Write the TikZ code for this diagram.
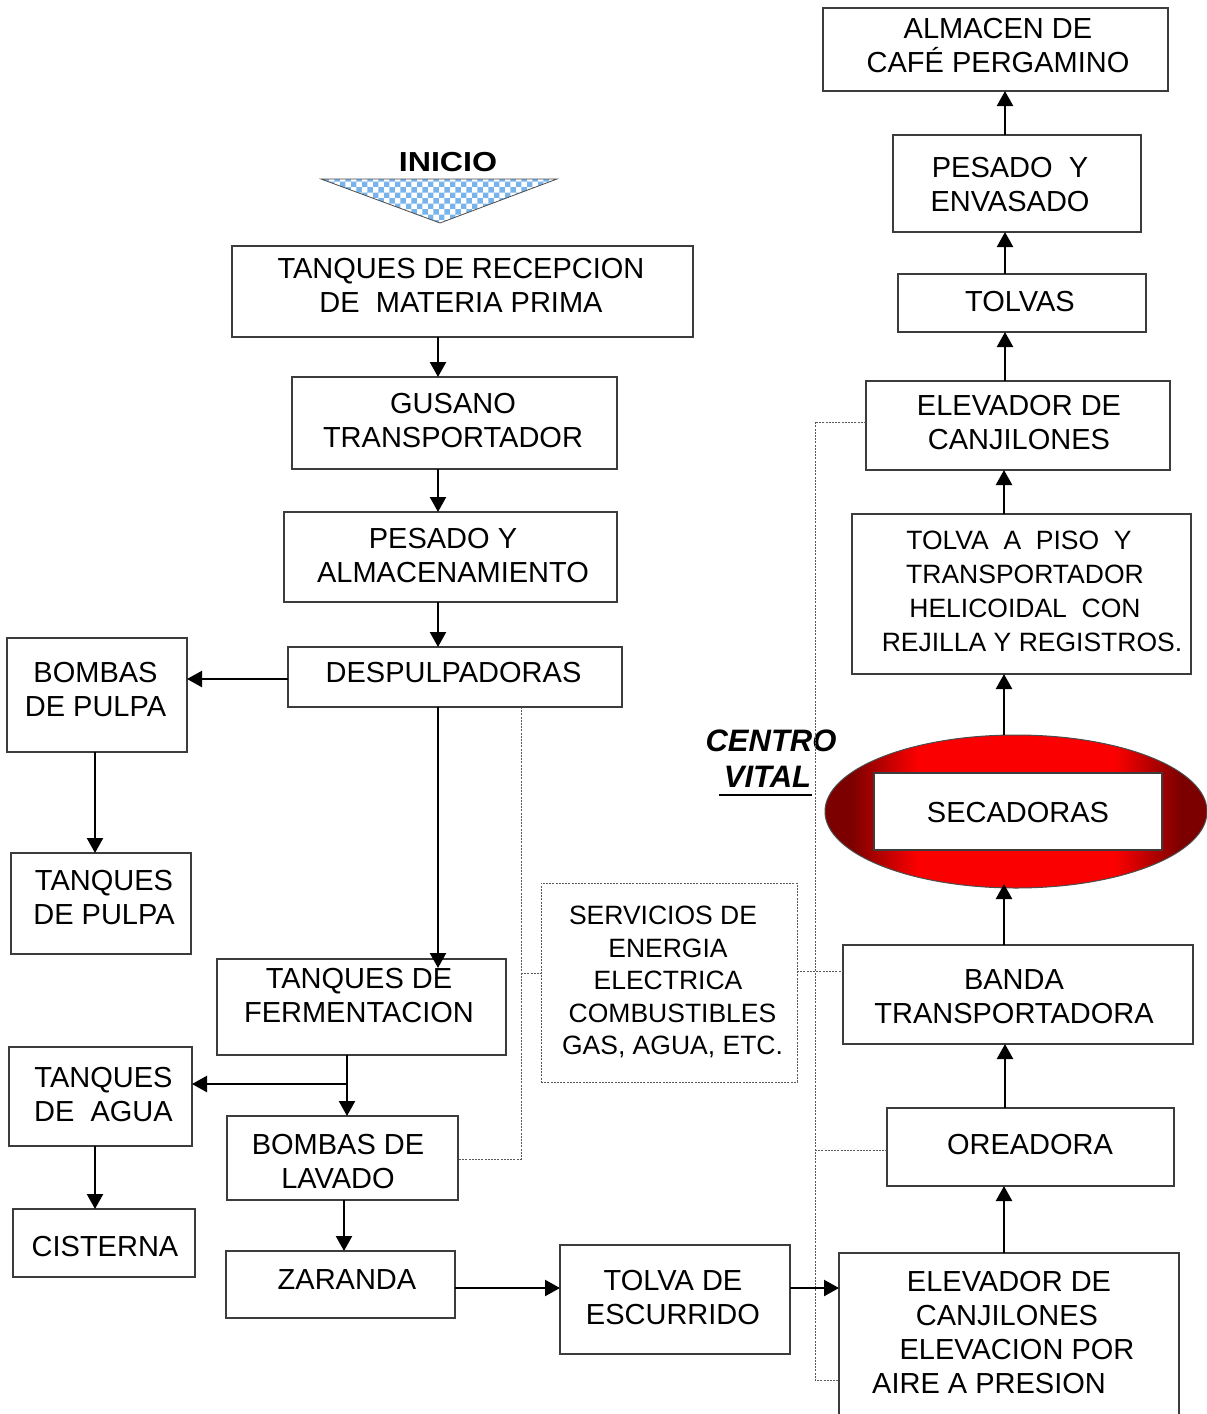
\documentclass[tikz,border=0pt]{standalone}
\usepackage{fontspec}
\setmainfont{Liberation Sans}
\usepackage{graphicx}
\usetikzlibrary{arrows.meta,shapes.geometric,patterns,calc}
\definecolor{ellDark}{RGB}{125,0,0}
\definecolor{ellRed}{RGB}{250,0,0}
\definecolor{inicioblue}{RGB}{120,180,235}
\definecolor{boxline}{RGB}{60,60,60}
\pgfdeclarehorizontalshading{redell}{100bp}{color(0bp)=(ellDark); color(26bp)=(ellDark); color(28.5bp)=(ellDark); color(37bp)=(ellRed); color(63bp)=(ellRed); color(71.5bp)=(ellDark); color(74bp)=(ellDark); color(100bp)=(ellDark)}
\newcommand\bxn[5]{\node[bx, minimum width={(#4-#2)*1pt}, minimum height={(#5-#3)*1pt}] (#1) at ({(#2+#4)/2},{(#3+#5)/2}) {};}
\begin{document}
\begin{tikzpicture}[x=1pt,y=-1pt,
  bx/.style={draw=boxline, line width=1.2pt, fill=white, inner sep=0pt, outer sep=0pt},
  dbx/.style={draw=black!65, line width=1pt, dash pattern=on 2pt off 1.2pt, inner sep=0pt, outer sep=0pt},
  txt/.style={align=center, inner sep=0pt, font=\fontsize{29}{34}\selectfont},
  stxt/.style={align=center, inner sep=0pt, font=\fontsize{26.5}{34}\selectfont},
  vtxt/.style={align=center, inner sep=0pt, font=\fontsize{26.5}{32.5}\selectfont},
  arr/.style={-{Triangle[length=15pt,width=16pt]}, line width=2.3pt},
  dotl/.style={draw=black!65, line width=1pt, dash pattern=on 2pt off 1.2pt}]
\useasboundingbox (0,0) rectangle (1207,1414);
\fill[white] (0,0) rectangle (1207,1414);

% INICIO
\draw[draw=black!70, line width=0.8pt, pattern=checkerboard, pattern color=inicioblue] (321,179) -- (557,179) -- (440,223) -- cycle;
\node[inner sep=0pt, font=\fontsize{27.5}{30}\selectfont\bfseries] (inicio) at (448,162.5) {\scalebox{1.17}[1]{INICIO}};

% centro vital
\node[inner sep=0pt, font=\fontsize{31}{36}\selectfont\bfseries\itshape] (centro) at (771,741) {CENTRO};
\node[inner sep=0pt, font=\fontsize{31}{36}\selectfont\bfseries\itshape] (vital) at (767.5,777) {VITAL};
\draw[line width=2.6pt] (719,795) -- (812,795);

% ellipse
\node[ellipse, draw=black!70, line width=1pt, shade, shading=redell, minimum width=382pt, minimum height=153pt, inner sep=0pt, outer sep=0pt] (ell) at (1016,811.5) {};

% boxes
\bxn{alm}{823}{8}{1168}{91}
\bxn{pesenv}{893}{135}{1141}{232}
\bxn{tolvas}{898}{274}{1146}{332}
\bxn{elev1}{866}{381}{1170}{470}
\bxn{tpiso}{852}{514}{1191}{674}
\bxn{sec}{874}{773}{1162}{850}
\bxn{banda}{843}{945}{1193}{1044}
\bxn{orea}{887}{1108}{1174}{1186}
\bxn{elev2}{839}{1253}{1179}{1440}
\bxn{tesc}{560}{1245}{790}{1354}
\bxn{zar}{226}{1251}{455}{1318}
\bxn{cist}{13}{1209}{195}{1277}
\bxn{tagua}{9}{1047}{192}{1146}
\bxn{blav}{227}{1116}{458}{1200}
\bxn{ferm}{217}{959}{506}{1055}
\bxn{tpul}{11}{853}{191}{954}
\bxn{bpul}{7}{638}{187}{752}
\bxn{desp}{288}{647}{622}{707}
\bxn{pesalm}{284}{512}{617}{602}
\bxn{gus}{292}{377}{617}{469}
\bxn{rec}{232}{246}{693}{337}
\node[dbx, minimum width=256pt, minimum height=199pt] (serv) at (669,982.5) {};

% texts
\node[txt] (almT) at (998,46) {ALMACEN DE\\CAFÉ PERGAMINO};
\node[txt] (pesenvT) at (1010,184.5) {PESADO\ \ Y\\ENVASADO};
\node[txt] (tolvasT) at (1020,302) {TOLVAS};
\node[txt] (elev1T) at (1019,422.5) {ELEVADOR DE\\CANJILONES};
\node[stxt] (tpisoT) at (1025,591) {TOLVA\ \ A\ \ PISO\ \ Y\hspace*{12pt}\\TRANSPORTADOR\hspace*{4pt}\\HELICOIDAL\ \ CON\\\hspace*{14pt}REJILLA Y REGISTROS.};
\node[txt] (secT) at (1018,813) {SECADORAS};
\node[txt] (bandaT) at (1014,996.5) {BANDA\\TRANSPORTADORA};
\node[txt] (oreaT) at (1030,1145) {OREADORA};
\node[txt] (elev2T) at (1005,1332) {\hspace*{8pt}ELEVADOR DE\\\hspace*{4pt}CANJILONES\\\hspace*{24pt}ELEVACION POR\\AIRE A PRESION\hspace*{32pt}};
\node[txt] (tescT) at (673,1297) {TOLVA DE\\ESCURRIDO};
\node[txt] (zarT) at (347,1280) {ZARANDA};
\node[txt] (cistT) at (105,1247) {CISTERNA};
\node[txt] (taguaT) at (103.5,1095) {TANQUES\\DE\ \ AGUA};
\node[txt] (blavT) at (338,1161.5) {BOMBAS DE\\LAVADO};
\node[txt] (fermT) at (359,996) {TANQUES DE\\FERMENTACION};
\node[txt] (tpulT) at (104,898) {TANQUES\\DE PULPA};
\node[txt] (bpulT) at (95.5,690) {BOMBAS\\DE PULPA};
\node[txt] (despT) at (453.5,673) {DESPULPADORAS};
\node[txt] (pesalmT) at (448,555.5) {PESADO Y\hspace*{10pt}\\\hspace*{10pt}ALMACENAMIENTO};
\node[txt] (gusT) at (453,420.5) {GUSANO\\TRANSPORTADOR};
\node[txt] (recT) at (461,285) {TANQUES DE RECEPCION\\DE\ \ MATERIA PRIMA};
\node[vtxt] (servT) at (668,982) {SERVICIOS DE\hspace*{10pt}\\ENERGIA\hspace*{4pt}\\ELECTRICA\hspace*{3pt}\\\hspace*{9pt}COMBUSTIBLES\\\hspace*{9pt}GAS, AGUA, ETC.};

% reference coordinates
\coordinate (cL) at (438,0);
\coordinate (cP) at (95,0);
\coordinate (cF) at (347,0);
\coordinate (cB) at (344,0);
\coordinate (cR) at (1005,0);
\coordinate (cR2) at (1004,0);
\coordinate (cD) at (521,0);
\coordinate (cV) at (815,0);
\coordinate (rB) at (0,1288);
\coordinate (rS1) at (0,973);
\coordinate (rS2) at (0,971);
\coordinate (rE1) at (0,422);
\coordinate (rE2) at (0,1380);
\coordinate (rO) at (0,1150);
\coordinate (rDp) at (0,679);
\coordinate (rL) at (0,1159);
\coordinate (br) at (347,1084);
\coordinate (fermIn) at ($(ferm.north -| cL)+(0,9)$);

% dotted connectors
\draw[dotl] (desp.south -| cD) -- (cD |- rL) -- (blav.east |- rL);
\draw[dotl] (cD |- rS1) -- (serv.west |- rS1);
\draw[dotl] (serv.east |- rS2) -- (banda.west |- rS2);
\draw[dotl] (elev1.west |- rE1) -- (cV |- rE1) -- (cV |- rE2) -- (elev2.west |- rE2);
\draw[dotl] (cV |- rO) -- (orea.west |- rO);

% arrows
\draw[arr] (rec.south -| cL) -- (gus.north -| cL);
\draw[arr] (gus.south -| cL) -- (pesalm.north -| cL);
\draw[arr] (pesalm.south -| cL) -- (desp.north -| cL);
\draw[arr] (desp.south -| cL) -- (fermIn);
\draw[arr] (desp.west |- rDp) -- (bpul.east |- rDp);
\draw[arr] (bpul.south -| cP) -- (tpul.north -| cP);
\draw[arr] (ferm.south -| cF) -- (blav.north -| cF);
\draw[arr] (br) -- (tagua.east |- br);
\draw[arr] (tagua.south -| cP) -- (cist.north -| cP);
\draw[arr] (blav.south -| cB) -- (zar.north -| cB);
\draw[arr] (zar.east |- rB) -- (tesc.west |- rB);
\draw[arr] (tesc.east |- rB) -- (elev2.west |- rB);
\draw[arr] (elev2.north -| cR2) -- (orea.south -| cR2);
\draw[arr] (orea.north -| cR) -- (banda.south -| cR);
\draw[arr] (banda.north -| cR2) -- ($(ell.south -| cR2)+(0,-4)$);
\draw[arr] (ell.north -| cR2) -- (tpiso.south -| cR2);
\draw[arr] (tpiso.north -| cR2) -- (elev1.south -| cR2);
\draw[arr] (elev1.north -| cR) -- (tolvas.south -| cR);
\draw[arr] (tolvas.north -| cR) -- (pesenv.south -| cR);
\draw[arr] (pesenv.north -| cR) -- (alm.south -| cR);
\end{tikzpicture}
\end{document}
